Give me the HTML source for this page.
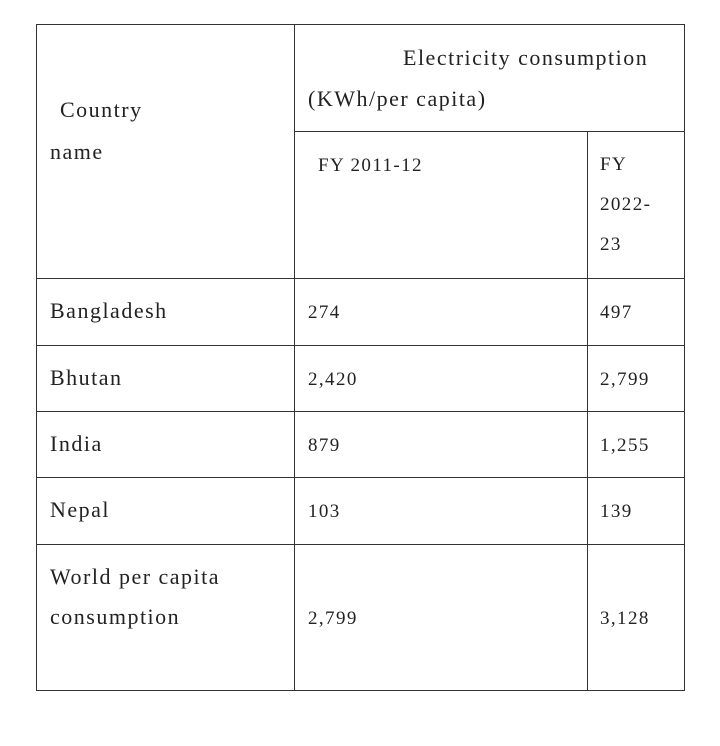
<!DOCTYPE html>
<html><head><meta charset="utf-8"><style>
body{margin:0;width:720px;height:746px;background:#fff;position:relative;font-family:"Liberation Serif",serif;color:#222;}
.l{position:absolute;background:#333;}
.t{position:absolute;white-space:nowrap;line-height:1;}
.b{font-size:22px;letter-spacing:1.5px;}
.s{font-size:19px;letter-spacing:1.4px;}
</style></head><body>
<div>
<div class="l" style="left:36px;top:24px;width:649px;height:1px"></div>
<div class="l" style="left:36px;top:690px;width:649px;height:1px"></div>
<div class="l" style="left:36px;top:24px;width:1px;height:667px"></div>
<div class="l" style="left:684px;top:24px;width:1px;height:667px"></div>
<div class="l" style="left:294px;top:24px;width:1px;height:667px"></div>
<div class="l" style="left:587px;top:131px;width:1px;height:560px"></div>
<div class="l" style="left:294px;top:131px;width:391px;height:1px"></div>
<div class="l" style="left:36px;top:278px;width:649px;height:1px"></div>
<div class="l" style="left:36px;top:345px;width:649px;height:1px"></div>
<div class="l" style="left:36px;top:411px;width:649px;height:1px"></div>
<div class="l" style="left:36px;top:477px;width:649px;height:1px"></div>
<div class="l" style="left:36px;top:544px;width:649px;height:1px"></div>

<div class="t b" style="left:403px;top:47px">Electricity consumption</div>
<div class="t b" style="left:308px;top:88px">(KWh/per capita)</div>
<div class="t b" style="left:60px;top:99px">Country</div>
<div class="t b" style="left:50px;top:141px">name</div>
<div class="t s" style="left:318px;top:156px">FY 2011-12</div>
<div class="t s" style="left:600px;top:156px;line-height:40px;margin-top:-11px">FY<br>2022-<br>23</div>

<div class="t b" style="left:50px;top:300px">Bangladesh</div>
<div class="t s" style="left:308px;top:303px">274</div>
<div class="t s" style="left:600px;top:303px">497</div>

<div class="t b" style="left:50px;top:367px">Bhutan</div>
<div class="t s" style="left:308px;top:370px">2,420</div>
<div class="t s" style="left:600px;top:370px">2,799</div>

<div class="t b" style="left:50px;top:433px">India</div>
<div class="t s" style="left:308px;top:436px">879</div>
<div class="t s" style="left:600px;top:436px">1,255</div>

<div class="t b" style="left:50px;top:499px">Nepal</div>
<div class="t s" style="left:308px;top:502px">103</div>
<div class="t s" style="left:600px;top:502px">139</div>

<div class="t b" style="left:50px;top:566px;line-height:40px;margin-top:-9px">World per capita<br>consumption</div>
<div class="t s" style="left:308px;top:609px">2,799</div>
<div class="t s" style="left:600px;top:609px">3,128</div>
</div>
</body></html>
